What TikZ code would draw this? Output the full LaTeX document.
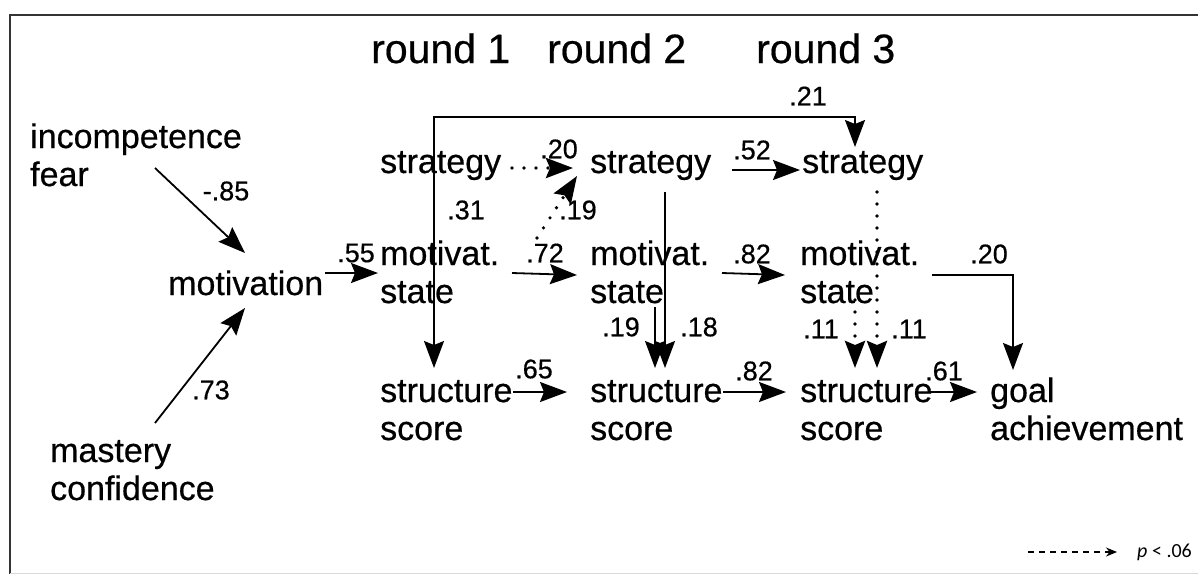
\documentclass[tikz,border=0pt]{standalone}
\usepackage{fontspec}
\setmainfont[FakeBold=0.5]{Liberation Sans}
\newfontfamily\legfont{Carlito}
\usetikzlibrary{arrows.meta,calc}
\newcommand{\twol}[2]{\begin{tabular}[t]{@{}l@{}}#1\\#2\end{tabular}}
\begin{document}
\begin{tikzpicture}[x=1pt,y=-1pt,
  lbl/.style={font=\fontsize{34}{38}\selectfont, anchor=base west, inner sep=0pt},
  hdr/.style={font=\fontsize{41}{44}\selectfont, anchor=base west, inner sep=0pt},
  coef/.style={font=\fontsize{27}{30}\selectfont, inner sep=0pt},
  conn/.style={line width=1.8pt, -{Stealth[length=27pt,width=20pt,inset=4pt]}},
  dotconn/.style={conn, line width=3.6pt, dash pattern=on 0pt off 12pt, line cap=round},
  frameline/.style={line width=2.2pt, black!80}]
\useasboundingbox (0,0) rectangle (1198,574);
% frame
\draw[frameline] (10,574) -- (10,15) -- (1198,15);
\draw[black!15, line width=1pt] (10,573) -- (1198,573);
% headers
\node[hdr] (r1) at (371,63) {round 1};
\node[hdr] (r2) at (547,63) {round 2};
\node[hdr] (r3) at (756,63) {round 3};
% nodes
\node[lbl] (inc) at (30,148) {\twol{incompetence}{fear}};
\node[lbl] (mot) at (168,295) {motivation};
\node[lbl] (mas) at (50,462) {\twol{mastery}{confidence}};
\node[lbl] (st1) at (380,173) {strategy};
\node[lbl] (ms1) at (380,265) {\twol{motivat.}{state}};
\node[lbl] (sc1) at (380,402) {\twol{structure}{score}};
\node[lbl] (st2) at (590,173) {strategy};
\node[lbl] (ms2) at (590,265) {\twol{motivat.}{state}};
\node[lbl] (sc2) at (590,402) {\twol{structure}{score}};
\node[lbl] (st3) at (802,173) {strategy};
\node[lbl] (ms3) at (800,265) {\twol{motivat.}{state}};
\node[lbl] (sc3) at (800,402) {\twol{structure}{score}};
\node[lbl] (goal) at (990,402) {\twol{goal}{achievement}};
% connectors
\draw[conn] ($(inc.base west)+(125,20)$) -- ($(mot.base west)+(77,-42)$);
\draw[conn] ($(mas.base west)+(105,-39)$) -- ($(mot.base west)+(77,13)$);
\draw[conn] ($(mot.base west)+(157,-22)$) -- ($(ms1.base west)+(-2,8)$);
\draw[conn] ($(st1.base west)+(54,0)$) -- (434,117) -- (855,117) -- ($(st3.base west)+(53,-26)$);
\draw[conn] ($(st1.base west)+(54,0)$) -- ($(sc1.base west)+(54,-34)$);
\draw[dotconn] ($(st1.base west)+(132,-5)$) -- ($(st2.base west)+(-17,-5)$);
\draw[dotconn] ($(ms1.base west)+(157,-27)$) -- ($(st2.base west)+(-13,3)$);
\draw[conn] ($(ms1.base west)+(132,8)$) -- ($(ms2.base west)+(-13,10)$);
\draw[conn] ($(sc1.base west)+(133,-10)$) -- ($(sc2.base west)+(-23,-10)$);
\draw[conn] ($(st2.base west)+(75,19)$) -- ($(sc2.base west)+(75,-34)$);
\draw[conn] ($(ms2.base west)+(65,42)$) -- ($(sc2.base west)+(65,-34)$);
\draw[conn] ($(st2.base west)+(142,-3)$) -- ($(st3.base west)+(-2,-3)$);
\draw[conn] ($(ms2.base west)+(132,8)$) -- ($(ms3.base west)+(-15,10)$);
\draw[conn] ($(sc2.base west)+(133,-10)$) -- ($(sc3.base west)+(-14,-10)$);
\draw[dotconn] ($(st3.base west)+(75,19)$) -- ($(sc3.base west)+(77,-34)$);
\draw[dotconn] ($(ms3.base west)+(55,35)$) -- ($(sc3.base west)+(55,-34)$);
\draw[conn] ($(ms3.base west)+(132,10)$) -| ($(goal.base west)+(23,-32)$);
\draw[conn] ($(sc3.base west)+(130,-10)$) -- ($(goal.base west)+(-13,-10)$);
% coefficients
\node[coef] (c1) at (226,191) {-.85};
\node[coef] (c2) at (211,390) {.73};
\node[coef] (c3) at (356,253) {.55};
\node[coef] (c4) at (466,210) {.31};
\node[coef] (c5) at (559,149) {.20};
\node[coef] (c6) at (578,210) {.19};
\node[coef] (c7) at (545,253) {.72};
\node[coef] (c8) at (534,369) {.65};
\node[coef] (c9) at (621,327) {.19};
\node[coef] (c10) at (699,327) {.18};
\node[coef] (c11) at (752,150) {.52};
\node[coef] (c12) at (752,254) {.82};
\node[coef] (c13) at (754,371) {.82};
\node[coef] (c14) at (808,96) {.21};
\node[coef] (c15) at (989,254) {.20};
\node[coef] (c16) at (821,329) {.11};
\node[coef] (c17) at (909,329) {.11};
\node[coef] (c18) at (944,371) {.61};
% legend
\coordinate (lgs) at (1028,552);
\node[anchor=base west, inner sep=0pt, font=\legfont\fontsize{20}{24}\selectfont] (leg) at (1137,557) {\textit{p} < .06};
\draw[line width=1.3pt, dash pattern=on 6pt off 5pt, -{Stealth[length=11pt,width=9pt]}] (lgs) -- ($(leg.base west)+(-20,-5)$);
\end{tikzpicture}
\end{document}
